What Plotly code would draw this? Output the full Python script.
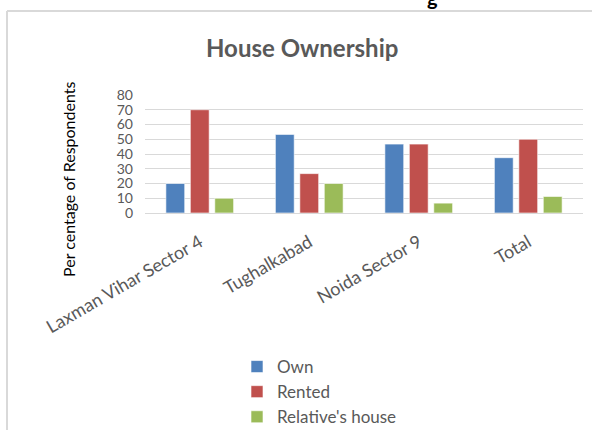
import plotly.graph_objects as go

categories = ["Laxman Vihar Sector 4", "Tughalkabad", "Noida Sector 9", "Total"]
own = [20, 53.3, 46.7, 37.5]
rented = [70, 26.7, 46.7, 50]
relative = [10, 20, 6.7, 11.2]
series_names = ["Own", "Rented", "Relative's house"]
colors = ["#4F81BD", "#C0504D", "#9BBB59"]
y_ticks = [0, 10, 20, 30, 40, 50, 60, 70, 80]

W, H = 592, 430
L, R, T, B = 145, 9, 95, 217
pw, ph = W - L - R, H - T - B

def px(x):
    return (x - L) / pw

def py(y):
    return (H - B - y) / ph

FONT = "Lato"

fig = go.Figure()
for name, vals, c in zip(series_names, [own, rented, relative], colors):
    fig.add_trace(go.Bar(x=categories, y=vals, name=name,
                         marker=dict(color=c, line=dict(color="rgba(255,255,255,0.6)", width=1))))

fig.update_layout(
    width=W, height=H,
    margin=dict(l=L, r=R, t=T, b=B, autoexpand=False),
    paper_bgcolor="white", plot_bgcolor="white",
    barmode="group", bargap=0.33, bargroupgap=0.23,
    font=dict(family=FONT, color="#595959"),
    showlegend=True,
    legend=dict(orientation="v", x=px(237), xanchor="left", y=py(349), yanchor="top",
                font=dict(size=17, color="#595959", family=FONT), traceorder="normal",
                bgcolor="rgba(0,0,0,0)"),
    xaxis=dict(showgrid=False, showline=True, linecolor="#D9D9D9", linewidth=1,
               tickangle=-30, tickfont=dict(size=18, color="#595959", family=FONT),
               ticks="", ticklabelstandoff=11),
    yaxis=dict(range=[0, 80], tickvals=y_ticks, showgrid=True, gridcolor="#D9D9D9", gridwidth=1,
               zeroline=False, showline=False, ticks="", ticklabelstandoff=11,
               tickfont=dict(size=14, color="#595959", family=FONT)),
    annotations=[
        dict(text="<b>House Ownership</b>", x=px(302), y=py(47), xref="paper", yref="paper",
             showarrow=False, font=dict(size=24, color="#595959", family=FONT), xanchor="center", yanchor="middle"),
        dict(text="Per centage of Respondents", x=px(68), y=py(179), xref="paper", yref="paper",
             showarrow=False, textangle=-90, font=dict(size=16, color="#000000", family=FONT),
             xanchor="center", yanchor="middle"),
        dict(text="<b>g</b>", x=px(432), y=py(-3), xref="paper", yref="paper",
             showarrow=False, font=dict(size=20, color="#000000", family=FONT), xanchor="center", yanchor="middle"),
    ],
    shapes=[
        dict(type="line", xref="paper", yref="paper", x0=px(7), x1=px(7), y0=py(11), y1=py(440),
             line=dict(color="#D9D9D9", width=2)),
        dict(type="line", xref="paper", yref="paper", x0=px(7), x1=px(600), y0=py(11), y1=py(11),
             line=dict(color="#D9D9D9", width=2)),
    ],
)

fig.write_html("out.html", config={"displayModeBar": False},
               post_script="document.body.style.margin='0';document.body.style.overflow='hidden';")
